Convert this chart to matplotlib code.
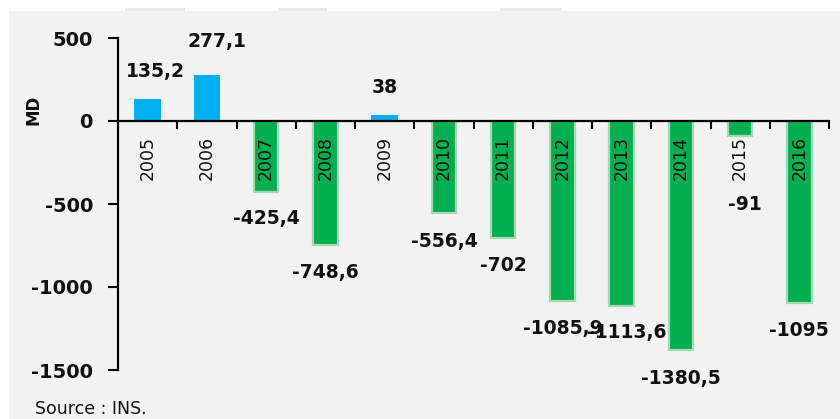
import matplotlib
matplotlib.use("Agg")
import matplotlib.pyplot as plt
from matplotlib.patches import Rectangle

years = ["2005", "2006", "2007", "2008", "2009", "2010", "2011", "2012",
         "2013", "2014", "2015", "2016"]
values = [135.2, 277.1, -425.4, -748.6, 38, -556.4, -702, -1085.9,
          -1113.6, -1380.5, -91, -1095]
labels = ["135,2", "277,1", "-425,4", "-748,6", "38", "-556,4", "-702",
          "-1085,9", "-1113,6", "-1380,5", "-91", "-1095"]
yticks = [500, 0, -500, -1000, -1500]

# label offsets in pixels (dx, dy magnitude)
label_off = [(8, 27), (10, 34), (0, 27), (0, 27), (0, 27), (0, 28), (0, 28),
             (0, 27), (5, 27), (0, 28), (5, 68), (0, 28)]

W, H = 840, 419
fig = plt.figure(figsize=(W / 100, H / 100), dpi=100)
fig.patch.set_facecolor("white")
fig.patches.append(Rectangle((9 / W, 0), 1, 1 - 11 / H, transform=fig.transFigure,
                             facecolor="#f2f2f2", edgecolor="none", zorder=-10))
for x0, x1 in [(125, 185), (278, 327), (500, 562)]:
    fig.patches.append(Rectangle((x0 / W, 1 - 11 / H), (x1 - x0) / W, 3 / H,
                                 transform=fig.transFigure, facecolor="#e9e9e9",
                                 edgecolor="none", zorder=-10))

ax = fig.add_axes([118 / W, 1 - 370 / H, 711 / W, 332 / H])
ax.set_facecolor("none")

xs = list(range(len(years)))
blue, green = "#00B0F0", "#00B050"
for x, v in zip(xs, values):
    if v >= 0:
        ax.bar(x, v, width=0.45, color=blue, edgecolor="none", zorder=1)
    else:
        ax.bar(x, v, width=0.41, color=green, edgecolor="#a6d8b4", linewidth=1.6, zorder=1)

for x, v, lab, (dx, dy) in zip(xs, values, labels, label_off):
    ax.annotate(lab, (x, v), xytext=(dx, dy if v >= 0 else -dy),
                textcoords="offset pixels", ha="center", va="center",
                fontsize=13.5, fontweight="bold", color="#111111", zorder=5)

ax.set_xlim(-0.5, len(years) - 0.5)
ax.set_ylim(-1500, 500)
ax.set_yticks(yticks)
ax.set_yticklabels([str(t) for t in yticks], fontsize=14, fontweight="bold", color="#111111")
ax.tick_params(axis="y", direction="out", length=7, width=1.5, pad=11, color="black")

ax.spines["top"].set_visible(False)
ax.spines["right"].set_visible(False)
ax.spines["left"].set_linewidth(1.6)
ax.spines["bottom"].set_position(("data", 0))
ax.spines["bottom"].set_linewidth(1.6)

ax.set_xticks(xs)
ax.set_xticklabels(years, rotation=90, fontsize=12.5, color="#111111")
ax.set_xticks([i + 0.5 for i in xs], minor=True)
ax.tick_params(axis="x", which="major", length=0, pad=11)
ax.tick_params(axis="x", which="minor", direction="out", length=6, width=1.5, color="black")
for t in ax.get_xticklabels():
    t.set_verticalalignment("top")

fig.text(33 / W, 1 - 110 / H, "MD", rotation=90, ha="center", va="center",
         fontsize=12, fontweight="bold", color="#111111")
fig.text(35 / W, 1 - 409 / H, "Source : INS.", ha="left", va="center",
         fontsize=12.5, color="#111111")

fig.savefig("out.png", dpi=100)
